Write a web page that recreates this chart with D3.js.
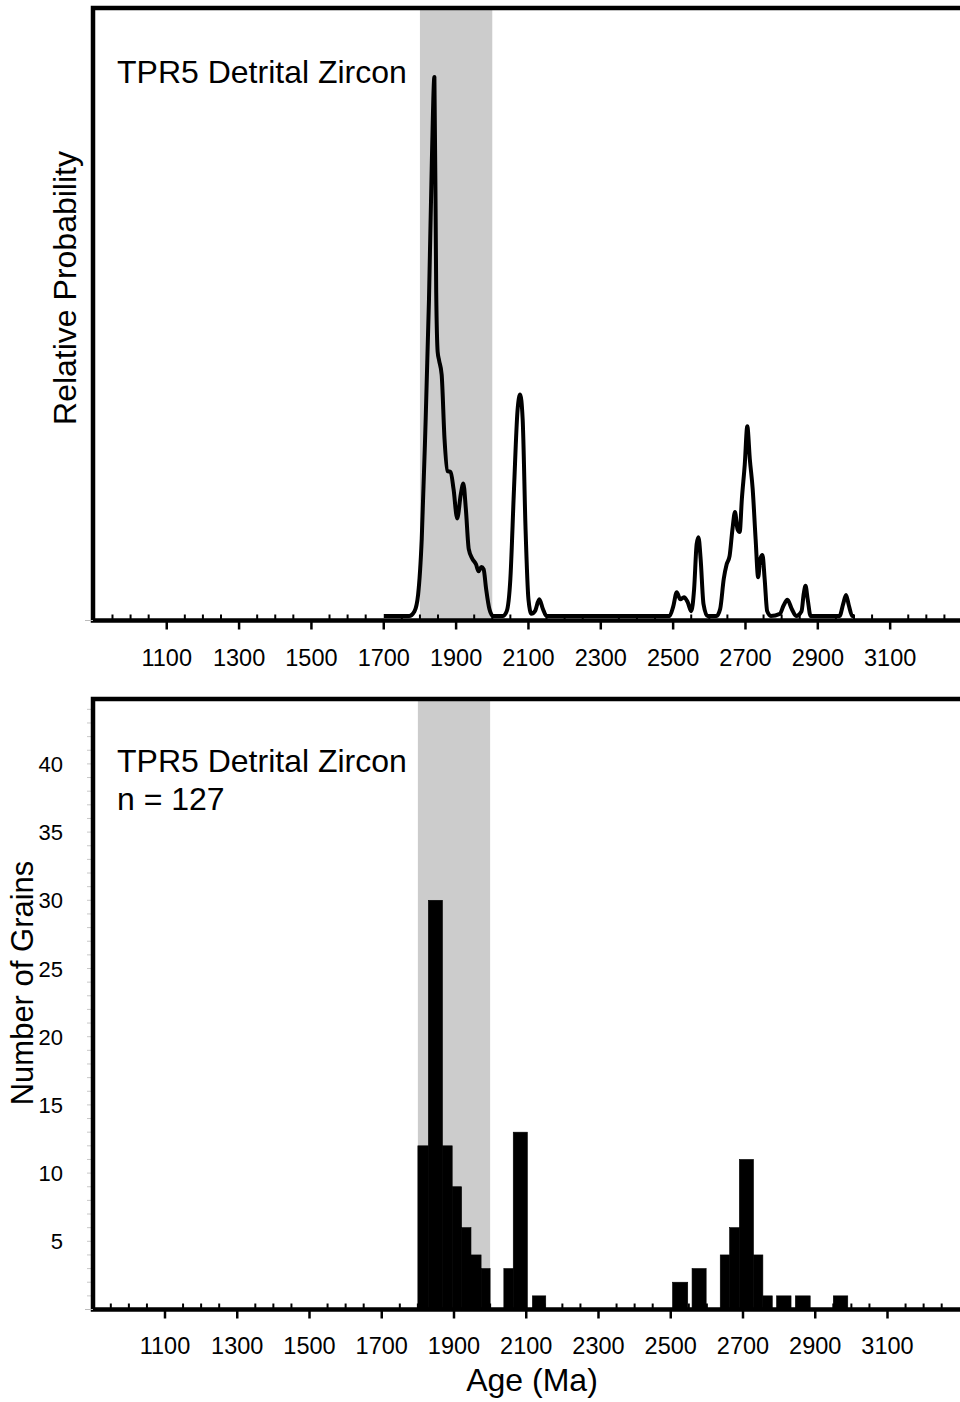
<!DOCTYPE html>
<html lang="en">
<head>
<meta charset="UTF-8">
<script src="https://cdn.jsdelivr.net/npm/d3@7"></script>
<style>
  body { margin: 0; background: #fff; }
  svg { display: block; }
  text { font-family: "Liberation Sans", Arial, sans-serif; fill: #000; }
</style>
</head>
<body>
<div id="chart"></div>
<script>
// ---- data ----
var sampleName = "TPR5 Detrital Zircon";
var grainCount = 127;
var ageTicks = [1100, 1300, 1500, 1700, 1900, 2100, 2300, 2500, 2700, 2900, 3100];
var countTicks = [5, 10, 15, 20, 25, 30, 35, 40];
var shadeAges = [1800, 2000];

// relative probability curve (age in Ma, probability scaled to main peak = 1)
var probAge = [1700, 1770, 1785, 1795, 1805, 1815, 1825, 1833, 1840, 1845, 1849, 1853, 1860, 1868, 1876, 1885,
  1893, 1903, 1913, 1920, 1927, 1935, 1945, 1955, 1962, 1970, 1976, 1983, 1992, 2002, 2030, 2040, 2050, 2060,
  2070, 2077, 2084, 2092, 2100, 2108, 2118, 2130, 2140, 2150, 2490, 2500, 2510, 2520, 2530, 2540, 2550, 2558,
  2565, 2570, 2576, 2584, 2595, 2620, 2630, 2640, 2648, 2656, 2664, 2671, 2678, 2684, 2690, 2698, 2705, 2712,
  2720, 2728, 2735, 2741, 2747, 2753, 2760, 2770, 2795, 2805, 2816, 2828, 2840, 2855, 2861, 2866, 2872, 2880,
  2960, 2970, 2978, 2986, 2995, 3000];
var probValue = [0, 0, 0.009, 0.04, 0.143, 0.346, 0.587, 0.846, 1.0, 0.60, 0.49, 0.474, 0.448, 0.328, 0.269, 0.267,
  0.235, 0.181, 0.226, 0.246, 0.198, 0.124, 0.106, 0.096, 0.083, 0.091, 0.087, 0.05, 0.013, 0, 0, 0.009, 0.069, 0.235,
  0.383, 0.411, 0.365, 0.161, 0.031, 0.004, 0.009, 0.031, 0.013, 0, 0, 0.017, 0.044, 0.031, 0.035, 0.026, 0.009, 0.05,
  0.133, 0.146, 0.106, 0.022, 0, 0, 0.013, 0.069, 0.096, 0.111, 0.161, 0.193, 0.161, 0.156, 0.217, 0.281, 0.352, 0.291,
  0.235, 0.143, 0.072, 0.106, 0.113, 0.069, 0.009, 0, 0.004, 0.019, 0.030, 0.013, 0, 0.009, 0.041, 0.056, 0.031, 0,
  0, 0.022, 0.039, 0.019, 0, 0];

// histogram bins (Ma) and grain counts
var binStart = [1800, 1829, 1868, 1895, 1921, 1947, 1975, 2038, 2064, 2117, 2505, 2559, 2637, 2663, 2690, 2729, 2755, 2793, 2845, 2950];
var binEnd   = [1829, 1868, 1895, 1921, 1947, 1975, 2000, 2064, 2103, 2154, 2547, 2598, 2663, 2690, 2729, 2755, 2781, 2833, 2886, 2990];
var binCount = [12, 30, 12, 9, 6, 4, 3, 3, 13, 1, 2, 3, 4, 6, 11, 4, 1, 1, 1, 1];

// ---- layout ----
var W = 960, H = 1402;
var svg = d3.select("#chart").append("svg").attr("width", W).attr("height", H);

var top1 = { left: 93, top: 8, bottom: 620.5 };
var top2 = { left: 93, top: 699, bottom: 1309.5 };

var x1 = d3.scaleLinear().domain([900, 3300]).range([94.4, 962.5]);
var x2 = d3.scaleLinear().domain([900, 3300]).range([92.75, 959.75]);
var y1 = d3.scaleLinear().domain([0, 1]).range([616, 77]);
var y2 = d3.scaleLinear().domain([0, 45]).range([top2.bottom, top2.bottom - 45 * 13.64]);

function shade(x, p) {
  svg.append("rect")
    .attr("x", x(shadeAges[0]))
    .attr("y", p.top)
    .attr("width", x(shadeAges[1]) - x(shadeAges[0]))
    .attr("height", p.bottom - p.top)
    .attr("fill", "#cccccc");
}

function ageAxis(x, p, labelY) {
  var minor = d3.range(950, 3300, 50).filter(function (d) { return ageTicks.indexOf(d) < 0; });
  var g = svg.append("g");
  g.selectAll("line.minor").data(minor).enter().append("line")
    .attr("x1", function (d) { return x(d); }).attr("x2", function (d) { return x(d); })
    .attr("y1", p.bottom).attr("y2", p.bottom - 6)
    .attr("stroke", "#000").attr("stroke-width", 2);
  g.selectAll("line.major").data(ageTicks).enter().append("line")
    .attr("x1", function (d) { return x(d); }).attr("x2", function (d) { return x(d); })
    .attr("y1", p.bottom).attr("y2", p.bottom + 9)
    .attr("stroke", "#000").attr("stroke-width", 2.5);
  g.selectAll("text").data(ageTicks).enter().append("text")
    .attr("x", function (d) { return x(d); })
    .attr("y", labelY)
    .attr("text-anchor", "middle")
    .style("font-size", "23.5px")
    .text(function (d) { return d; });
}

function frame(p) {
  svg.append("path")
    .attr("d", "M1000," + p.top + "H" + p.left + "V" + p.bottom + "H1000")
    .attr("fill", "none").attr("stroke", "#000").attr("stroke-width", 4.5);
  // faint outer tick at the zero line
  svg.append("line")
    .attr("x1", p.left - 8).attr("x2", p.left)
    .attr("y1", p.bottom).attr("y2", p.bottom)
    .attr("stroke", "#bbb").attr("stroke-width", 1);
}

// ---- top panel: relative probability ----
shade(x1, top1);

var probPts = probAge.map(function (a, i) { return [a, probValue[i]]; });
svg.append("path")
  .datum(probPts)
  .attr("d", d3.line()
    .x(function (d) { return x1(d[0]); })
    .y(function (d) { return y1(d[1]); })
    .curve(d3.curveMonotoneX))
  .attr("fill", "none")
  .attr("stroke", "#000")
  .attr("stroke-width", 4)
  .attr("stroke-linejoin", "round");

ageAxis(x1, top1, 666);
frame(top1);

svg.append("text").attr("x", 117).attr("y", 83)
  .style("font-size", "32px").text(sampleName);
svg.append("text")
  .attr("transform", "translate(76,288) rotate(-90)")
  .attr("text-anchor", "middle")
  .style("font-size", "32px")
  .text("Relative Probability");

// ---- bottom panel: histogram ----
shade(x2, top2);

var bins = binStart.map(function (s, i) { return { s: s, e: binEnd[i], n: binCount[i] }; });
svg.append("g").selectAll("rect").data(bins).enter().append("rect")
  .attr("x", function (d) { return x2(d.s); })
  .attr("width", function (d) { return x2(d.e) - x2(d.s); })
  .attr("y", function (d) { return y2(d.n); })
  .attr("height", function (d) { return y2(0) - y2(d.n); })
  .attr("fill", "#000")
  .attr("stroke", "#000")
  .attr("stroke-width", 0.6);

// faint y minor ticks
svg.append("g").selectAll("line").data(d3.range(1, 45)).enter().append("line")
  .attr("x1", top2.left - 6).attr("x2", top2.left)
  .attr("y1", function (d) { return y2(d); }).attr("y2", function (d) { return y2(d); })
  .attr("stroke", "#c8c8c8").attr("stroke-width", 1);

svg.append("g").selectAll("text").data(countTicks).enter().append("text")
  .attr("x", 63)
  .attr("y", function (d) { return y2(d) + 8; })
  .attr("text-anchor", "end")
  .style("font-size", "22px")
  .text(function (d) { return d; });

ageAxis(x2, top2, 1354);
frame(top2);

svg.append("text").attr("x", 117).attr("y", 772)
  .style("font-size", "32px").text(sampleName);
svg.append("text").attr("x", 117).attr("y", 810)
  .style("font-size", "32px").text("n = " + grainCount);
svg.append("text")
  .attr("transform", "translate(33,983) rotate(-90)")
  .attr("text-anchor", "middle")
  .style("font-size", "31px")
  .text("Number of Grains");
svg.append("text")
  .attr("x", 532).attr("y", 1391)
  .attr("text-anchor", "middle")
  .style("font-size", "32px")
  .text("Age (Ma)");
</script>
</body>
</html>
